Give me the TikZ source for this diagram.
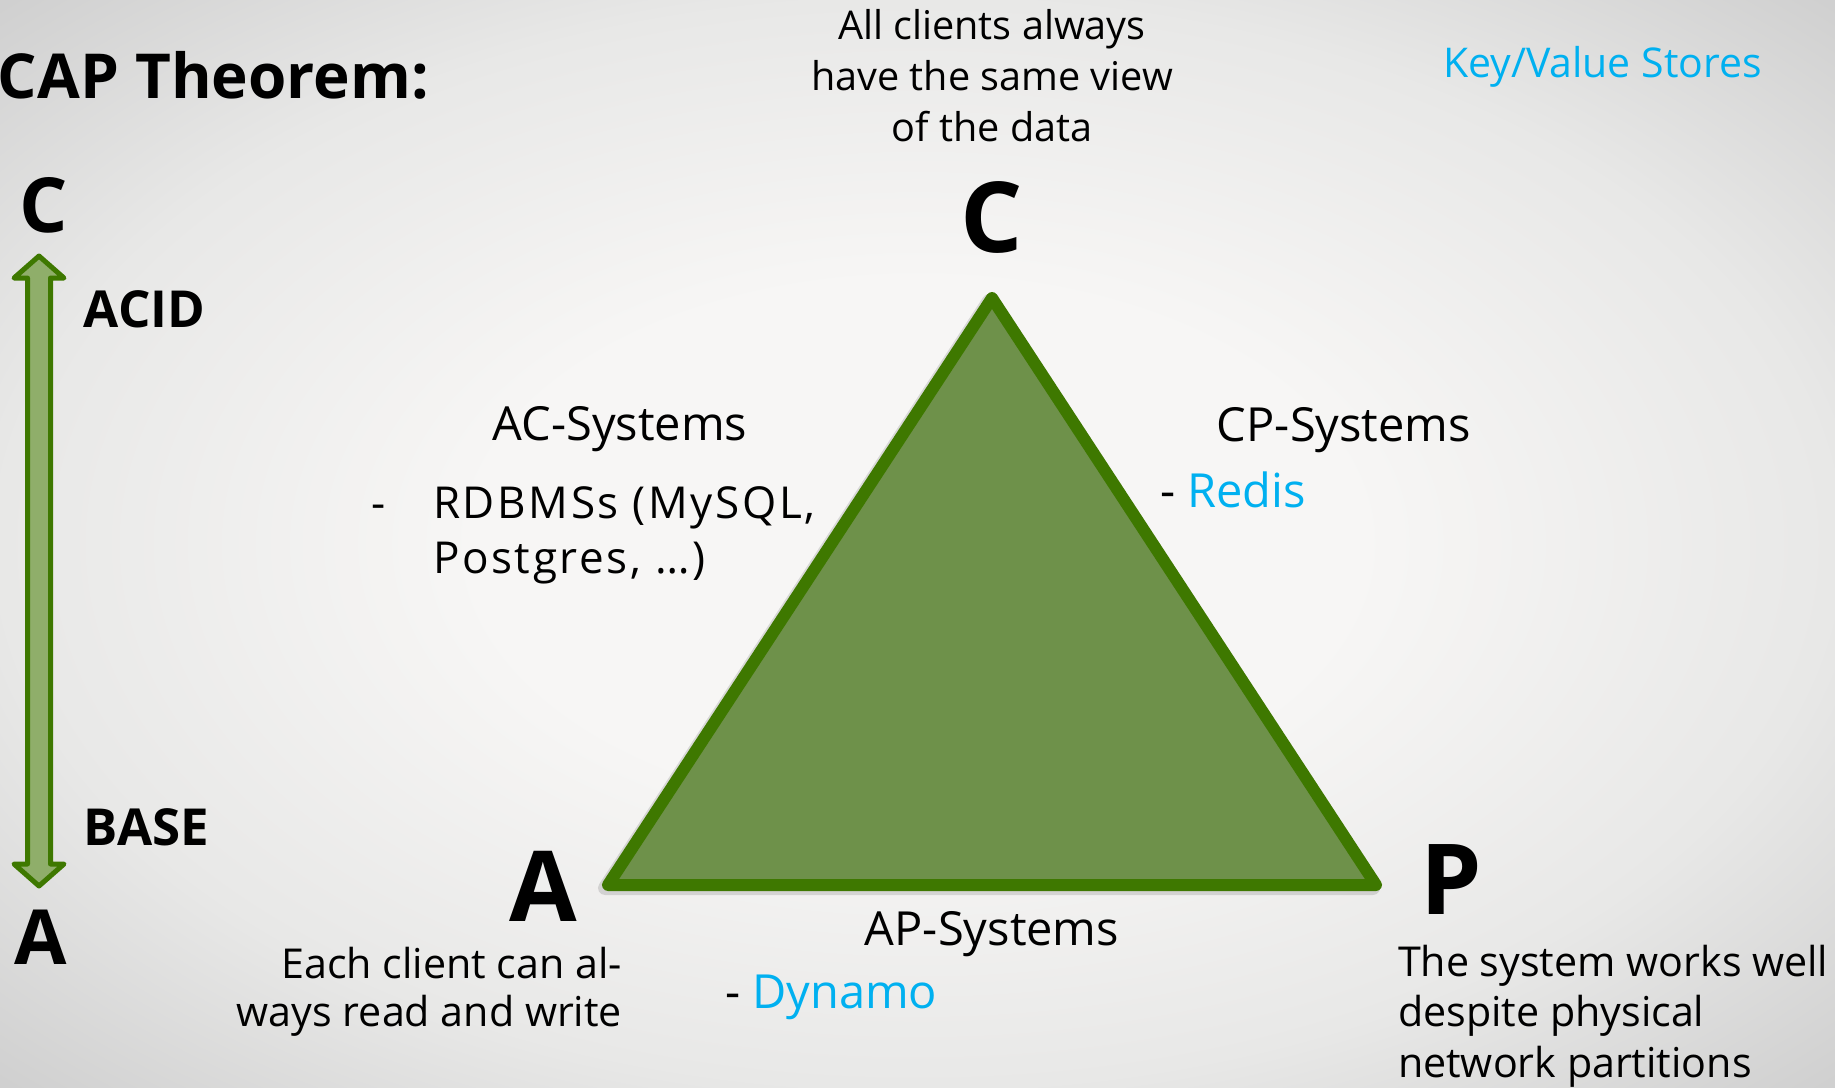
\documentclass[tikz,border=0pt]{standalone}
\usepackage{fontspec}
\setmainfont{Open Sans}

\definecolor{capgreen}{RGB}{62,120,0}
\definecolor{trifill}{RGB}{110,145,74}
\definecolor{arrowfill}{RGB}{143,174,106}
\definecolor{kvblue}{RGB}{0,176,240}
\definecolor{bglight}{RGB}{247,246,245}
\definecolor{bgmid}{RGB}{232,232,231}
\definecolor{bgdark}{RGB}{206,206,206}

\pgfdeclareradialshading{slidebg}{\pgfpoint{0bp}{0bp}}{color(0bp)=(bglight); color(12bp)=(bglight); color(25bp)=(bgmid); color(36bp)=(bgdark); color(50bp)=(bgdark)}

\begin{document}
\begin{tikzpicture}[x=0.5bp, y=-0.5bp]
        \tikzstyle{every node}=[inner sep=0pt, outer sep=0pt]
        \tikzstyle{title}=[font={\fontsize{31bp}{38bp}\selectfont\bfseries}]
        \tikzstyle{corner}=[font={\fontsize{49bp}{54bp}\selectfont\bfseries}]
        \tikzstyle{side}=[font={\fontsize{38bp}{44bp}\selectfont\bfseries}]
        \tikzstyle{tag}=[font={\fontsize{25.5bp}{28bp}\selectfont\bfseries}]
        \tikzstyle{head}=[font={\fontsize{23.5bp}{28bp}\selectfont}]
        \tikzstyle{item}=[font={\fontsize{22bp}{27.5bp}\selectfont\addfontfeature{LetterSpace=6}}]
        \tikzstyle{note}=[font={\fontsize{19.8bp}{25.3bp}\selectfont}]
        \tikzstyle{desc}=[font={\fontsize{20.6bp}{25.25bp}\selectfont}]
        \tikzstyle{kv}=[font={\fontsize{20.5bp}{25bp}\selectfont}, text=kvblue]
        \tikzstyle{edge}=[draw=capgreen, line width=6bp, line join=round]

        % slide background
        \shade[shading=slidebg] (0,0) rectangle (1835,1087);
        \useasboundingbox (0,0) rectangle (1835,1087);

        % C <-> A arrow
        \coordinate (up) at (39,256);
        \coordinate (down) at (39,886);
        \draw[draw=capgreen, fill=arrowfill, line width=2.5bp, line join=round] (up) -- ++(25,22) -- ++(-13.5,0) -- ++(0,586) -- ++(13.5,0) -- (down) -- ++(-25,-22) -- ++(13.5,0) -- ++(0,-586) -- ++(-13.5,0) -- cycle;

        % triangle
        \coordinate (tc) at (992,298);
        \coordinate (ta) at (608,885);
        \coordinate (tp) at (1376,885);
        \begin{scope}[transform canvas={shift={(-1.5bp,-1.5bp)}}]
            \draw[draw=black, line width=7bp, line join=round, opacity=0.12] (tc) -- (ta) -- (tp) -- cycle;
        \end{scope}
        \draw[edge, fill=trifill] (tc) -- (ta) -- (tp) -- cycle;

        \node[title, anchor=base west] (title) at (-2,98) {CAP Theorem:};
        \node[kv, anchor=base west] (kvs) at (1443,77) {Key/Value Stores};
        \node[note, anchor=base, align=center] (cnote) at (992,141) {All clients always\\have the same view\\of the data};

        \node[side, anchor=base west] (sideC) at (19,232) {C};
        \node[side, anchor=base west] (sideA) at (14,964) {A};
        \node[tag, anchor=base west] (acid) at (84,327) {ACID};
        \node[tag, anchor=base west] (base) at (84,845) {BASE};

        \node[corner, anchor=base] (labC) at (992,252) {C};
        \node[corner, anchor=base] (labA) at (543,921) {A};
        \node[corner, anchor=base west] (labP) at (1420,914) {P};

        \node[head, anchor=base] (ac) at (620,440) {AC-Systems};
        \node[item, anchor=base west] (acdash) at (371,518) {-};
        \node[item, anchor=base west, align=left] (acsys) at (433,573) {RDBMSs (MySQL,\\Postgres, \ldots)};
        \node[head, anchor=base] (cp) at (1344,441) {CP-Systems};
        \node[head, anchor=base west] (cpsys) at (1160,507) {- \textcolor{kvblue}{Redis}};
        \node[head, anchor=base] (ap) at (992,945) {AP-Systems};
        \node[head, anchor=base west] (apsys) at (725,1008) {- \textcolor{kvblue}{Dynamo}};

        \node[desc, font={\fontsize{20.6bp}{24bp}\selectfont}, anchor=base east, align=right] (anote) at (622,1026) {Each client can al-\\ways read and write};
        \node[desc, anchor=base west, align=left] (pnote) at (1398,1077) {The system works well\\despite physical\\network partitions};
\end{tikzpicture}
\end{document}
